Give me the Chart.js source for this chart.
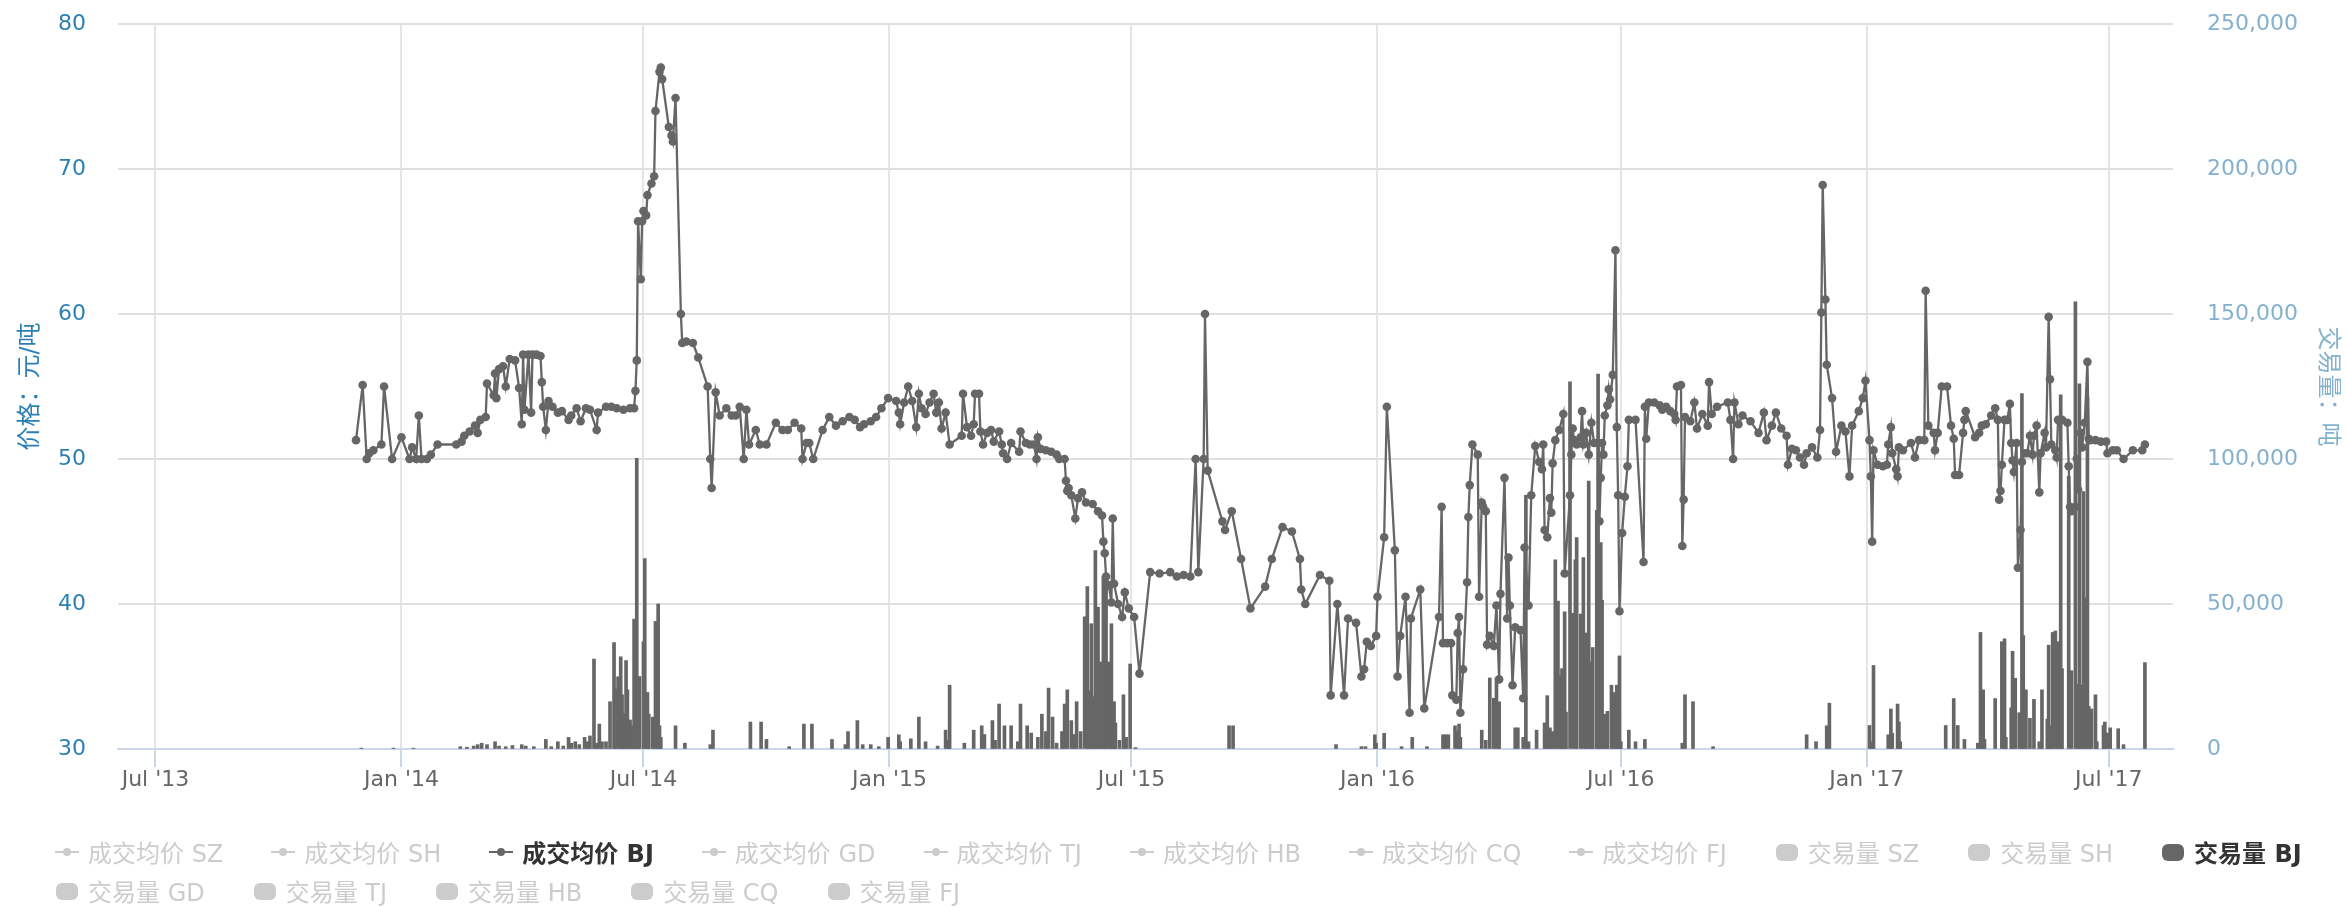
<!DOCTYPE html>
<html>
<head>
<meta charset="utf-8">
<script src="https://cdn.jsdelivr.net/npm/chart.js@4.4.1/dist/chart.umd.min.js"></script>
<style>
html,body{margin:0;padding:0;background:#fff;}
#wrap{position:relative;width:2346px;height:906px;}
#legend{position:absolute;left:55px;top:832px;font-family:'DejaVu Sans','Noto Sans CJK SC',sans-serif;font-size:24px;}
.row{display:flex;height:39px;align-items:center;}
.item{display:flex;align-items:center;margin-right:48px;white-space:nowrap;color:#cccccc;}
.item.on{color:#333333;font-weight:bold;}
.item canvas{margin-right:9px;}
</style>
</head>
<body>
<div id="wrap">
  <canvas id="priceChart"></canvas>
  <div id="legend"></div>
</div>
<script>
const priceDates = [
'2013-11-28','2013-12-03','2013-12-06','2013-12-08','2013-12-11','2013-12-17','2013-12-19','2013-12-25',
'2014-01-01','2014-01-07','2014-01-09','2014-01-12','2014-01-14','2014-01-16','2014-01-20','2014-01-23','2014-01-28',
'2014-02-11','2014-02-15','2014-02-17','2014-02-21','2014-02-25','2014-02-27',
'2014-03-01','2014-03-05','2014-03-06','2014-03-11','2014-03-12','2014-03-13','2014-03-15','2014-03-18','2014-03-20','2014-03-23','2014-03-27','2014-03-30',
'2014-04-01','2014-04-02','2014-04-03','2014-04-06','2014-04-08','2014-04-09','2014-04-12','2014-04-15','2014-04-16','2014-04-17','2014-04-19','2014-04-21','2014-04-24','2014-04-28',
'2014-05-01','2014-05-06','2014-05-08','2014-05-12','2014-05-15','2014-05-19','2014-05-22','2014-05-27','2014-05-28',
'2014-06-03','2014-06-07','2014-06-11','2014-06-16','2014-06-21','2014-06-24','2014-06-25','2014-06-26','2014-06-27','2014-06-29','2014-06-30',
'2014-07-01','2014-07-03','2014-07-04','2014-07-07','2014-07-09','2014-07-10','2014-07-13','2014-07-14','2014-07-15','2014-07-20','2014-07-22','2014-07-23','2014-07-25','2014-07-29','2014-07-30',
'2014-08-02','2014-08-07','2014-08-11','2014-08-18','2014-08-20','2014-08-21','2014-08-24','2014-08-27',
'2014-09-01','2014-09-05','2014-09-08','2014-09-11','2014-09-14','2014-09-16','2014-09-18','2014-09-23','2014-09-26',
'2014-10-01','2014-10-08','2014-10-13','2014-10-17','2014-10-22','2014-10-27','2014-10-28','2014-10-31',
'2014-11-02','2014-11-05','2014-11-12','2014-11-17','2014-11-22','2014-11-27',
'2014-12-02','2014-12-06','2014-12-10','2014-12-13','2014-12-18','2014-12-22','2014-12-26','2014-12-31',
'2015-01-06','2015-01-08','2015-01-09','2015-01-12','2015-01-15','2015-01-18','2015-01-21','2015-01-23','2015-01-25','2015-01-28','2015-01-31',
'2015-02-03','2015-02-05','2015-02-07','2015-02-09','2015-02-12','2015-02-15','2015-02-24','2015-02-25','2015-02-28',
'2015-03-03','2015-03-05','2015-03-06','2015-03-09','2015-03-10','2015-03-12','2015-03-15','2015-03-18','2015-03-20','2015-03-24','2015-03-26','2015-03-27','2015-03-30',
'2015-04-02','2015-04-08','2015-04-09','2015-04-13','2015-04-16','2015-04-19','2015-04-21','2015-04-22','2015-04-24','2015-04-28',
'2015-05-02','2015-05-06','2015-05-08','2015-05-12','2015-05-13','2015-05-14','2015-05-15','2015-05-17','2015-05-20','2015-05-22','2015-05-25','2015-05-28',
'2015-06-02','2015-06-06','2015-06-09','2015-06-10','2015-06-11','2015-06-12','2015-06-14','2015-06-16','2015-06-17','2015-06-18','2015-06-21','2015-06-24','2015-06-26','2015-06-29',
'2015-07-03','2015-07-07','2015-07-15','2015-07-22','2015-07-30',
'2015-08-04','2015-08-09','2015-08-14','2015-08-18','2015-08-20','2015-08-24','2015-08-25','2015-08-27',
'2015-09-07','2015-09-09','2015-09-14','2015-09-21','2015-09-28',
'2015-10-09','2015-10-14','2015-10-22','2015-10-29',
'2015-11-04','2015-11-05','2015-11-08','2015-11-19','2015-11-26','2015-11-27',
'2015-12-02','2015-12-07','2015-12-10','2015-12-16','2015-12-20','2015-12-22','2015-12-24','2015-12-27','2015-12-31',
'2016-01-01','2016-01-06','2016-01-08','2016-01-14','2016-01-16','2016-01-18','2016-01-22','2016-01-25','2016-01-26',
'2016-02-02','2016-02-05','2016-02-16','2016-02-18','2016-02-19','2016-02-22','2016-02-25','2016-02-26','2016-02-29',
'2016-03-01','2016-03-02','2016-03-03','2016-03-05','2016-03-08','2016-03-09','2016-03-10','2016-03-12','2016-03-16','2016-03-17','2016-03-19','2016-03-20','2016-03-22','2016-03-23','2016-03-25','2016-03-28','2016-03-30',
'2016-04-01','2016-04-02','2016-04-05','2016-04-07','2016-04-08','2016-04-09','2016-04-11','2016-04-13','2016-04-17','2016-04-19','2016-04-20','2016-04-23','2016-04-25','2016-04-28',
'2016-05-01','2016-05-03','2016-05-04','2016-05-05','2016-05-07','2016-05-09','2016-05-10','2016-05-11','2016-05-13','2016-05-16','2016-05-19','2016-05-20','2016-05-24','2016-05-25','2016-05-26','2016-05-27','2016-05-29',
'2016-06-01','2016-06-02','2016-06-03','2016-06-05','2016-06-07','2016-06-09','2016-06-11','2016-06-14','2016-06-15','2016-06-16','2016-06-17','2016-06-18','2016-06-19','2016-06-21','2016-06-22','2016-06-23','2016-06-25','2016-06-27','2016-06-28','2016-06-29','2016-06-30',
'2016-07-02','2016-07-04','2016-07-06','2016-07-07','2016-07-12','2016-07-18','2016-07-19','2016-07-20','2016-07-22','2016-07-26','2016-07-30',
'2016-08-01','2016-08-04','2016-08-07','2016-08-10','2016-08-11','2016-08-12','2016-08-15','2016-08-16','2016-08-17','2016-08-18','2016-08-22','2016-08-25','2016-08-27','2016-08-31',
'2016-09-04','2016-09-05','2016-09-07','2016-09-11','2016-09-19','2016-09-21','2016-09-23','2016-09-24','2016-09-27','2016-09-30',
'2016-10-06','2016-10-12','2016-10-16','2016-10-18','2016-10-22','2016-10-25','2016-10-29',
'2016-11-02','2016-11-03','2016-11-06','2016-11-09','2016-11-12','2016-11-15','2016-11-17','2016-11-21','2016-11-25','2016-11-27','2016-11-28','2016-11-29',
'2016-12-01','2016-12-02','2016-12-06','2016-12-09','2016-12-13','2016-12-16','2016-12-19','2016-12-21','2016-12-26','2016-12-29','2016-12-31',
'2017-01-03','2017-01-04','2017-01-05','2017-01-06','2017-01-09','2017-01-13','2017-01-16','2017-01-17','2017-01-19','2017-01-20','2017-01-23','2017-01-24','2017-01-25','2017-01-28',
'2017-02-03','2017-02-06','2017-02-09','2017-02-13','2017-02-14','2017-02-16','2017-02-20','2017-02-21','2017-02-23','2017-02-26',
'2017-03-02','2017-03-05','2017-03-07','2017-03-08','2017-03-11','2017-03-14','2017-03-15','2017-03-16','2017-03-23','2017-03-26','2017-03-28','2017-03-31',
'2017-04-04','2017-04-07','2017-04-09','2017-04-10','2017-04-11','2017-04-12','2017-04-14','2017-04-16','2017-04-18','2017-04-19','2017-04-20','2017-04-21','2017-04-23','2017-04-24','2017-04-26','2017-04-27','2017-04-29',
'2017-05-01','2017-05-03','2017-05-05','2017-05-06','2017-05-08','2017-05-10','2017-05-11','2017-05-14','2017-05-15','2017-05-17','2017-05-18','2017-05-19','2017-05-22','2017-05-23','2017-05-24','2017-05-27','2017-05-31',
'2017-06-01','2017-06-02','2017-06-03','2017-06-06','2017-06-07','2017-06-08','2017-06-10','2017-06-11','2017-06-13','2017-06-15','2017-06-16','2017-06-17','2017-06-21','2017-06-25','2017-06-29','2017-06-30',
'2017-07-04','2017-07-07','2017-07-12','2017-07-19','2017-07-26','2017-07-28'
];
const priceValues = [
51.3,55.1,50.0,50.4,50.6,51.0,55.0,50.0,
51.5,50.0,50.8,50.0,53.0,50.0,50.0,50.3,51.0,
51.0,51.2,51.6,51.9,52.3,51.8,
52.7,52.9,55.2,54.4,55.9,54.2,56.2,56.4,55.0,56.9,56.8,54.9,
52.4,57.2,53.4,57.2,53.2,57.2,57.2,57.1,55.3,53.6,52.0,54.0,53.6,53.2,
53.3,52.7,53.0,53.5,52.6,53.5,53.4,52.0,53.2,
53.6,53.6,53.5,53.4,53.5,53.5,54.7,56.8,66.4,62.4,66.4,
67.1,66.8,68.2,69.0,69.5,74.0,76.7,77.0,76.2,72.9,72.3,71.9,74.9,60.0,58.0,
58.1,58.0,57.0,55.0,50.0,48.0,54.6,53.0,
53.5,53.0,53.0,53.6,50.0,53.4,51.0,52.0,51.0,
51.0,52.5,52.0,52.0,52.5,52.1,50.0,51.1,
51.1,50.0,52.0,52.9,52.3,52.6,
52.9,52.7,52.2,52.4,52.6,52.9,53.5,54.2,
54.0,53.2,52.4,53.9,55.0,54.0,52.2,54.5,53.5,53.1,53.9,
54.5,53.2,53.9,52.1,53.2,51.0,51.6,54.5,52.2,
51.6,52.4,54.5,54.5,51.9,51.0,51.8,52.0,51.2,51.9,51.0,50.4,50.0,
51.1,50.5,51.9,51.1,51.0,51.0,50.0,51.5,50.7,50.6,
50.5,50.3,50.0,50.0,48.5,47.8,48.0,47.5,45.9,47.3,47.7,47.0,
46.9,46.4,46.1,44.3,43.5,41.9,41.3,40.1,45.9,41.4,40.0,39.1,40.8,39.7,
39.1,35.2,42.2,42.1,42.2,
41.9,42.0,41.9,50.0,42.2,50.0,60.0,49.2,
45.7,45.1,46.4,43.1,39.7,
41.2,43.1,45.3,45.0,
43.1,41.0,40.0,42.0,41.6,33.7,
40.0,33.7,39.0,38.7,35.0,35.5,37.4,37.1,37.8,
40.5,44.6,53.6,43.7,35.0,37.8,40.5,32.5,39.0,
41.0,32.8,39.1,46.7,37.3,37.3,37.3,33.7,33.4,
38.0,39.1,32.5,35.5,41.5,46.0,48.2,51.0,50.3,40.5,47.0,46.7,46.4,37.2,37.8,37.1,39.9,
34.8,40.7,48.7,39.0,43.2,39.9,34.4,38.4,38.2,33.5,43.9,39.9,47.5,50.9,
49.8,49.3,51.0,45.1,44.6,47.3,46.3,49.7,51.3,52.0,53.1,42.1,47.5,50.3,52.1,51.3,51.0,
51.5,53.3,51.0,51.8,50.3,52.5,51.1,51.1,45.7,48.7,51.1,50.3,53.0,53.7,54.8,54.1,55.8,64.4,52.2,47.5,39.5,
44.9,47.4,49.5,52.7,52.7,42.9,53.6,51.4,53.9,53.9,53.7,
53.4,53.6,53.3,53.1,52.7,55.0,55.1,44.0,47.2,52.9,52.6,53.9,52.1,53.1,
52.3,55.3,53.1,53.6,53.9,52.7,50.0,53.9,52.4,53.0,
52.6,51.8,53.2,51.3,52.3,53.2,52.1,
51.6,49.6,50.7,50.6,50.1,49.6,50.4,50.8,50.1,52.0,60.1,68.9,
61.0,56.5,54.2,50.5,52.3,51.9,48.8,52.3,53.3,54.2,55.4,
51.3,48.8,44.3,50.6,49.6,49.5,49.6,51.0,52.2,50.4,49.3,48.8,50.8,50.6,
51.1,50.1,51.3,51.3,61.6,52.3,51.8,50.6,51.8,55.0,
55.0,52.3,51.4,48.9,48.9,51.8,52.7,53.3,51.5,51.8,52.3,52.4,
53.0,53.5,52.7,47.2,47.8,49.6,52.7,52.7,53.8,51.1,49.9,49.1,51.1,42.5,45.1,49.8,50.4,
50.4,51.6,50.3,51.6,52.3,47.7,50.4,51.8,50.8,59.8,55.5,51.0,50.6,50.1,52.7,52.7,52.5,
49.5,46.7,46.4,46.7,50.0,47.9,51.8,50.8,52.5,56.7,51.4,51.3,51.3,51.2,51.2,50.4,
50.6,50.6,50.0,50.6,50.6,51.0
];

const volumeDates = [
'2013-12-02','2013-12-26','2014-01-10',
'2014-02-14','2014-02-19','2014-02-24','2014-02-27','2014-03-02','2014-03-06','2014-03-12','2014-03-15','2014-03-20','2014-03-25',
'2014-04-01','2014-04-04','2014-04-10','2014-04-19','2014-04-23','2014-04-28',
'2014-05-02','2014-05-06','2014-05-08','2014-05-11','2014-05-14','2014-05-18','2014-05-20','2014-05-22','2014-05-25','2014-05-27','2014-05-29','2014-05-31',
'2014-06-03','2014-06-06','2014-06-09','2014-06-10','2014-06-12','2014-06-14','2014-06-15','2014-06-16','2014-06-18','2014-06-19','2014-06-21','2014-06-23','2014-06-24','2014-06-26','2014-06-27','2014-06-28',
'2014-07-01','2014-07-02','2014-07-04','2014-07-05','2014-07-08','2014-07-10','2014-07-12','2014-07-13','2014-07-14','2014-07-25',
'2014-08-01','2014-08-20','2014-08-22','2014-09-19','2014-09-27','2014-10-01','2014-10-18','2014-10-29','2014-11-04','2014-11-19','2014-11-29',
'2014-12-01','2014-12-08','2014-12-12','2014-12-18','2014-12-24','2014-12-31',
'2015-01-08','2015-01-09','2015-01-17','2015-01-23','2015-01-28','2015-02-06','2015-02-12','2015-02-14','2015-02-15','2015-02-26',
'2015-03-05','2015-03-11','2015-03-13','2015-03-19','2015-03-21','2015-03-24','2015-03-28',
'2015-04-02','2015-04-07','2015-04-09','2015-04-14','2015-04-17','2015-04-22','2015-04-25','2015-04-28','2015-04-30',
'2015-05-03','2015-05-06','2015-05-10','2015-05-12','2015-05-14','2015-05-17','2015-05-19','2015-05-21','2015-05-24','2015-05-27','2015-05-29','2015-05-30',
'2015-06-01','2015-06-03','2015-06-04','2015-06-06','2015-06-08','2015-06-10','2015-06-11','2015-06-12','2015-06-14','2015-06-16','2015-06-17','2015-06-18','2015-06-19','2015-06-22','2015-06-25','2015-06-27','2015-06-30',
'2015-07-04','2015-09-12','2015-09-15','2015-12-01','2015-12-20','2015-12-23','2015-12-30','2015-12-31',
'2016-01-06','2016-01-19','2016-01-27','2016-02-07','2016-02-19','2016-02-21','2016-02-23','2016-02-28',
'2016-03-01','2016-03-02','2016-03-03','2016-03-19','2016-03-22','2016-03-25','2016-03-28','2016-03-30',
'2016-04-01','2016-04-13','2016-04-15','2016-04-19','2016-04-21','2016-04-23','2016-04-29',
'2016-05-05','2016-05-07','2016-05-09','2016-05-11','2016-05-13','2016-05-15','2016-05-17','2016-05-18','2016-05-20','2016-05-21','2016-05-24','2016-05-26','2016-05-28','2016-05-29',
'2016-06-01','2016-06-03','2016-06-05','2016-06-07','2016-06-09','2016-06-10','2016-06-13','2016-06-14','2016-06-16','2016-06-17','2016-06-19','2016-06-21','2016-06-24','2016-06-26','2016-06-28','2016-06-29','2016-06-30',
'2016-07-01','2016-07-07','2016-07-12','2016-07-19','2016-08-16','2016-08-18','2016-08-24','2016-09-08',
'2016-11-17','2016-11-24','2016-12-02','2016-12-04',
'2017-01-03','2017-01-05','2017-01-06','2017-01-17','2017-01-19','2017-01-20','2017-01-24','2017-01-25','2017-01-26',
'2017-03-01','2017-03-07','2017-03-10','2017-03-15','2017-03-25','2017-03-27','2017-03-29','2017-03-30',
'2017-04-07','2017-04-12','2017-04-14','2017-04-15','2017-04-19','2017-04-20','2017-04-22','2017-04-25','2017-04-27','2017-04-28','2017-04-30',
'2017-05-03','2017-05-06','2017-05-10','2017-05-12','2017-05-16','2017-05-17','2017-05-18','2017-05-20','2017-05-22','2017-05-24','2017-05-26','2017-05-27',
'2017-06-01','2017-06-03','2017-06-06','2017-06-08','2017-06-09','2017-06-11','2017-06-12','2017-06-14','2017-06-15','2017-06-16','2017-06-18','2017-06-21','2017-06-22','2017-06-27','2017-06-28','2017-06-30',
'2017-07-02','2017-07-08','2017-07-12','2017-07-28'
];
const volumeValues = [
300,300,300,
800,600,1000,1500,2000,1500,2500,1000,800,1200,
1500,1000,800,3300,800,2500,
1000,4000,2000,2500,1500,4000,2500,4500,31000,2000,8600,2500,
2500,16300,36700,20700,24900,31800,18700,12200,30500,20400,10000,8000,44800,100200,18700,25000,
37000,65700,19500,12000,11000,44000,50000,8000,4000,8000,
2000,1500,6500,9300,9300,3300,800,8600,8600,3300,1500,
6000,9800,1500,1500,800,4000,
4900,2500,3500,11000,2500,1000,6500,3000,22000,2000,
6500,8000,5000,9800,3000,15500,8000,
8000,2500,15500,8000,5500,4000,12000,6000,21000,
11000,2000,6000,15500,20400,9800,5000,16300,6000,45600,56000,20000,
43200,18000,68400,48900,30000,59500,40000,59500,30000,43200,8000,16300,9000,3000,18700,4000,29300,
500,8000,8000,1500,800,800,4900,2000,
5400,800,4000,800,4900,4900,4900,8000,
6000,8600,4000,6500,3000,24500,17500,24500,
16300,7300,7300,4000,87500,2500,6500,
9000,18400,7300,6000,65200,51000,25300,27700,47300,12700,126600,46800,65200,72900,
46500,66000,40000,92400,30000,35000,82300,129300,71200,51300,12000,13000,22000,19500,22000,12700,32100,
2500,6500,2500,3300,2000,18700,16300,800,
4900,2500,8000,15800,
8100,2500,28800,4900,13800,5400,15500,9300,2500,
8100,17400,8100,3300,2000,40200,20400,3300,
17400,37000,38000,4000,14200,33700,24400,12500,122600,39100,20400,
10600,17100,2500,20400,10300,35800,8000,40200,40700,37000,122100,27700,
94000,27000,154200,22300,125900,22000,88800,52100,121300,14700,13800,18700,2500,8100,9300,5500,
7300,7000,1500,29800
];

const xTickDates = ['2013-07-01','2014-01-01','2014-07-01','2015-01-01','2015-07-01','2016-01-01','2016-07-01','2017-01-01','2017-07-01'];
const xTickLabels = ["Jul '13","Jan '14","Jul '14","Jan '15","Jul '15","Jan '16","Jul '16","Jan '17","Jul '17"];
const xRange = ['2013-06-03','2017-08-18'];
const priceTicks = [30,40,50,60,70,80];
const volumeTicks = [0,50000,100000,150000,200000,250000];
const regions = ['SZ','SH','BJ','GD','TJ','HB','CQ','FJ'];
const shownRegion = 'BJ';

const FONT = "'DejaVu Sans','Noto Sans CJK SC',sans-serif";
Chart.defaults.font.family = FONT;

const day0 = Date.UTC(2013, 6, 1);
function dayNum(s) {
  const p = s.split('-').map(Number);
  return (Date.UTC(p[0], p[1] - 1, p[2]) - day0) / 864e5;
}

const pricePoints = priceDates.map((d, i) => ({x: dayNum(d), y: priceValues[i]}));
const volumePoints = volumeDates.map((d, i) => ({x: dayNum(d), y: volumeValues[i]}));

const datasets = [];
regions.forEach(r => datasets.push({
  type: 'line', label: '成交均价 ' + r, yAxisID: 'y',
  data: r === shownRegion ? pricePoints : [], hidden: r !== shownRegion,
  borderColor: '#666666', backgroundColor: '#666666', borderWidth: 2.3,
  pointRadius: 4.3, pointHoverRadius: 4.3, pointBorderWidth: 0, tension: 0, order: 1
}));
regions.forEach(r => datasets.push({
  type: 'bar', label: '交易量 ' + r, yAxisID: 'y1',
  data: r === shownRegion ? volumePoints : [], hidden: r !== shownRegion,
  backgroundColor: '#666666', barThickness: 3, grouped: false, order: 0
}));

const ctx = document.getElementById('priceChart').getContext('2d');
const chart = new Chart(ctx, {
  type: 'bar',
  data: { datasets: datasets },
  options: {
    responsive: true, maintainAspectRatio: false, animation: false,
    layout: { padding: { top: 24, bottom: 87, left: 0, right: 0 } },
    plugins: { legend: { display: false }, tooltip: { enabled: false } },
    scales: {
      x: {
        type: 'linear', offset: false, min: dayNum(xRange[0]), max: dayNum(xRange[1]),
        afterBuildTicks: s => { s.ticks = xTickDates.map(d => ({value: dayNum(d)})); },
        ticks: { autoSkip: false, maxRotation: 0, color: '#666666', font: {size: 22}, padding: 0,
                 callback: (v, i) => xTickLabels[i] },
        grid: { offset: false, color: '#e2e5ea', lineWidth: 2, tickColor: '#ccd6eb', tickLength: 18, tickWidth: 2 },
        border: { color: '#ccd6eb', width: 2 },
        afterFit: s => { s.height = 70; }
      },
      y: {
        type: 'linear', position: 'left', min: 30, max: 80,
        afterBuildTicks: s => { s.ticks = priceTicks.map(v => ({value: v})); },
        ticks: { color: '#2d80b4', font: {size: 22}, padding: 2 },
        grid: { color: '#e0e0e0', lineWidth: 2, drawTicks: true, tickLength: 30, tickColor: 'rgba(0,0,0,0)' },
        border: { display: false },
        title: { display: true, text: '价格：元/吨', color: '#2d80b4', font: {size: 24}, padding: {top: 16, bottom: 0} },
        afterFit: s => { s.width = 118; }
      },
      y1: {
        type: 'linear', position: 'right', min: 0, max: 250000,
        afterBuildTicks: s => { s.ticks = volumeTicks.map(v => ({value: v})); },
        ticks: { color: '#84b1cf', font: {size: 22}, padding: 2, callback: v => v.toLocaleString('en-US') },
        grid: { drawOnChartArea: false, drawTicks: true, tickLength: 32, color: 'rgba(0,0,0,0)', tickColor: 'rgba(0,0,0,0)' },
        border: { display: false },
        title: { display: true, text: '交易量：吨', color: '#84b1cf', font: {size: 24}, padding: {top: 4, bottom: 0} },
        afterFit: s => { s.width = 173; }
      }
    }
  }
});

// legend in the highcharts style: hidden series greyed out
function legendSymbol(type, color) {
  const c = document.createElement('canvas');
  c.width = 24; c.height = 20;
  const g = c.getContext('2d');
  g.fillStyle = color; g.strokeStyle = color;
  if (type === 'line') {
    g.lineWidth = 2;
    g.beginPath(); g.moveTo(0, 10); g.lineTo(24, 10); g.stroke();
    g.beginPath(); g.arc(12, 10, 4, 0, Math.PI * 2); g.fill();
  } else {
    g.beginPath(); g.roundRect(1, 2, 22, 17, 6); g.fill();
  }
  return c;
}

const legendEl = document.getElementById('legend');
const rowSplit = [11, 5];
let start = 0;
rowSplit.forEach(n => {
  const row = document.createElement('div');
  row.className = 'row';
  chart.data.datasets.slice(start, start + n).forEach(ds => {
    const item = document.createElement('div');
    item.className = 'item' + (ds.hidden ? '' : ' on');
    item.appendChild(legendSymbol(ds.type, ds.hidden ? '#cccccc' : '#666666'));
    const span = document.createElement('span');
    span.textContent = ds.label;
    item.appendChild(span);
    row.appendChild(item);
  });
  legendEl.appendChild(row);
  start += n;
});
</script>
</body>
</html>
